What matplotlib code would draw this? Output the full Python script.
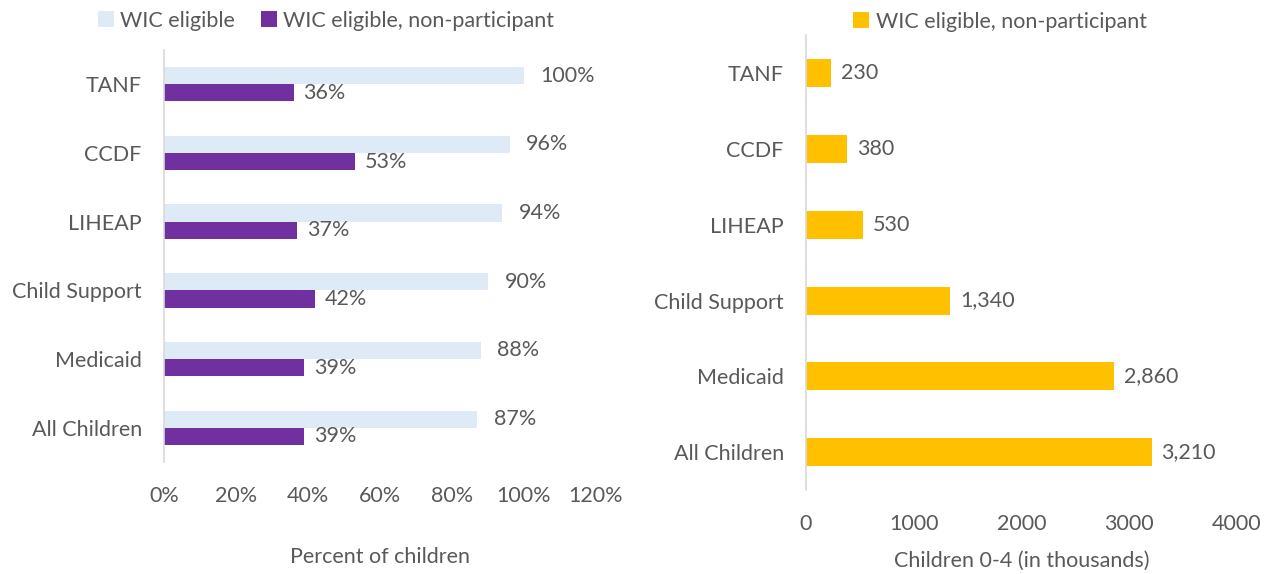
import matplotlib.pyplot as plt
import numpy as np

plt.rcParams['font.family'] = ['Lato', 'DejaVu Sans']

programs = ['TANF', 'CCDF', 'LIHEAP', 'Child Support', 'Medicaid', 'All Children']
eligible_pct = [100, 96, 94, 90, 88, 87]
nonpart_pct = [36, 53, 37, 42, 39, 39]
nonpart_count = [230, 380, 530, 1340, 2860, 3210]

TEXT = '#595959'
LIGHT = '#DEEAF6'
PURPLE = '#7030A0'
GOLD = '#FFC000'
SPINE = '#D9D9D9'
FS = 15.5

def styleAxis(ax):
    for s in ['top', 'right', 'bottom']:
        ax.spines[s].set_visible(False)
    ax.spines['left'].set_color(SPINE)
    ax.spines['left'].set_linewidth(1.2)
    ax.tick_params(axis='both', length=0, colors=TEXT, labelsize=FS)
    ax.tick_params(axis='x', pad=17)
    ax.tick_params(axis='y', pad=16)

fig = plt.figure(figsize=(12.77, 5.74), dpi=100)

#-------------------LEFT: percent----------------------------#
ax1 = fig.add_axes([164/1277, 0.195, 432/1277, 0.718])
y = np.arange(len(programs))
h = 0.25
b1 = ax1.barh(y - h/2, [v/100 for v in eligible_pct], height=h, color=LIGHT, label='WIC eligible')
b2 = ax1.barh(y + h/2, [v/100 for v in nonpart_pct], height=h, color=PURPLE, label='WIC eligible, non-participant')
for bar, v in zip(b1, eligible_pct):
    ax1.annotate(f'{v}%', (bar.get_width(), bar.get_y() + bar.get_height()/2),
                 xytext=(12, 0), textcoords='offset points', va='center', color=TEXT, fontsize=FS)
for bar, v in zip(b2, nonpart_pct):
    ax1.annotate(f'{v}%', (bar.get_width(), bar.get_y() + bar.get_height()/2),
                 xytext=(7, 0), textcoords='offset points', va='center', color=TEXT, fontsize=FS)
ax1.set_xlim(0, 1.2)
ax1.set_ylim(len(programs) - 0.5, -0.5)
ax1.set_yticks(y)
ax1.set_yticklabels(programs)
ax1.set_xticks(np.arange(0, 1.21, 0.2))
ax1.set_xticklabels([f'{int(round(t*100))}%' for t in np.arange(0, 1.21, 0.2)])
ax1.set_xlabel('Percent of children', color=TEXT, fontsize=FS, labelpad=30)
styleAxis(ax1)
ax1.legend(loc='lower center', bbox_to_anchor=(0.375, 1.0), ncol=2, frameon=False, fontsize=FS,
           labelcolor=TEXT, handlelength=0.75, handleheight=0.75, handletextpad=0.3, columnspacing=1.2)

#-------------------RIGHT: counts----------------------------#
ax2 = fig.add_axes([806/1277, 0.146, 431/1277, 0.793])
b3 = ax2.barh(y, nonpart_count, height=0.37, color=GOLD, label='WIC eligible, non-participant')
for bar, v in zip(b3, nonpart_count):
    ax2.annotate(f'{v:,}', (bar.get_width(), bar.get_y() + bar.get_height()/2),
                 xytext=(7, 0), textcoords='offset points', va='center', color=TEXT, fontsize=FS)
ax2.set_xlim(0, 4000)
ax2.set_ylim(len(programs) - 0.5, -0.5)
ax2.set_yticks(y)
ax2.set_yticklabels(programs)
ax2.set_xticks([0, 1000, 2000, 3000, 4000])
ax2.set_xlabel('Children 0-4 (in thousands)', color=TEXT, fontsize=FS, labelpad=12)
styleAxis(ax2)
ax2.legend(loc='lower center', bbox_to_anchor=(0.45, 0.965), frameon=False, fontsize=FS,
           labelcolor=TEXT, handlelength=0.75, handleheight=0.75, handletextpad=0.3)

fig.savefig('out.png', dpi=100)
